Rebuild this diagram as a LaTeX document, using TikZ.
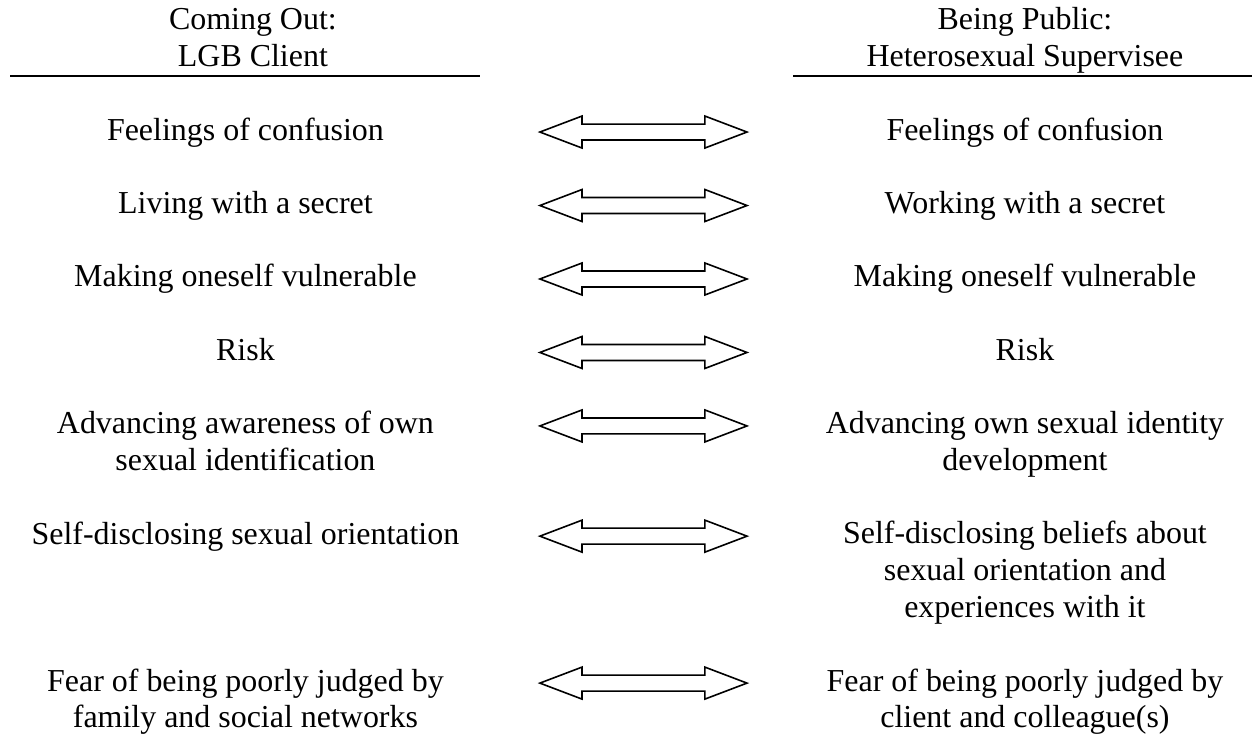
\documentclass[tikz,border=0pt]{standalone}
\usepackage{fontspec}
\setmainfont{Liberation Serif}
\usetikzlibrary{positioning, calc}
\tikzset{x=1pt, y=1pt, % Coordinates are given in points
        every node/.style={ % Sets the properties for each text
            inner sep=0pt,
            align=center,
            anchor=base, % base of the last line
            font=\fontsize{12pt}{13.8pt}\selectfont},
        rule/.style={ % Line under the column headings
            line width=0.75pt},
        twoway/.style={ % Hollow double arrow between the two columns
            draw,
            line width=0.6pt,
            line join=miter}
        }

\begin{document}
\begin{tikzpicture}
    \useasboundingbox (0,0) rectangle (470.3,-278.0);

    % headings
    \node (hl) at (95.0,-25.0) {Coming Out:\\LGB Client};
    \node (hr) at (385.0,-25.0) {Being Public:\\Heterosexual Supervisee};
    \draw[rule] (3.8,-28.6) -- (180.3,-28.6);
    \draw[rule] (297.9,-28.6) -- (470.3,-28.6);

    % left column
    \node (l1) at (92.2,-52.6) {Feelings of confusion};
    \node (l2) at (92.2,-80.2) {Living with a secret};
    \node (l3) at (92.2,-107.8) {Making oneself vulnerable};
    \node (l4) at (92.2,-135.4) {Risk};
    \node (l5) at (92.2,-176.8) {Advancing awareness of own\\sexual identification};
    \node (l6) at (92.2,-204.4) {Self-disclosing sexual orientation};
    \node (l7) at (92.2,-273.4) {Fear of being poorly judged by\\family and social networks};

    % right column
    \node (r1) at (385.0,-52.6) {Feelings of confusion};
    \node (r2) at (385.0,-80.2) {Working with a secret};
    \node (r3) at (385.0,-107.8) {Making oneself vulnerable};
    \node (r4) at (385.0,-135.4) {Risk};
    \node (r5) at (385.0,-176.8) {Advancing own sexual identity\\development};
    \node (r6) at (385.0,-231.8) {Self-disclosing beliefs about\\sexual orientation and\\experiences with it};
    \node (r7) at (385.0,-273.4) {Fear of being poorly judged by\\client and colleague(s)};

    % arrows, sitting on the first line of each pair
    \foreach \y [count=\i] in {52.6,80.2,107.8,135.4,163.0,204.4,259.6} {
        \coordinate (a\i) at (241.7,-\y+3);
        \draw[twoway] ($(a\i)+(-38.9,0)$) -- ++(15.8,6) -- ++(0,-3) -- ++(46.2,0)
            -- ++(0,3) -- ++(15.8,-6) -- ++(-15.8,-6) -- ++(0,3)
            -- ++(-46.2,0) -- ++(0,-3) -- cycle;
    }
\end{tikzpicture}
\end{document}
